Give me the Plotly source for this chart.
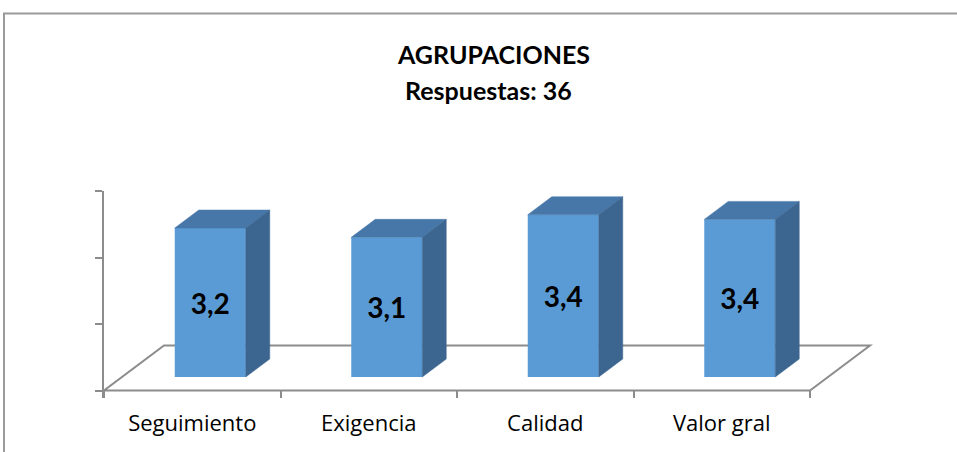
import plotly.graph_objects as go

# ---------------- data ----------------
categories = ["Seguimiento", "Exigencia", "Calidad", "Valor gral"]
values = [3.24, 3.10, 3.44, 3.37]
value_labels = ["3,2", "3,1", "3,4", "3,4"]
y_ticks = [1, 2, 3, 4]
title_line1 = "AGRUPACIONES"
title_line2 = "Respuestas: 36"

# ---------------- layout geometry (pixels) ----------------
W, H = 957, 452
L_PX, R_PX = 104, 885          # plot area left/right
T_PX, B_PX = 191, 398          # plot area top/bottom
CAT_PX = 176.5                 # pixels per category
UNIT_PX = 66.5                 # pixels per value unit
FLOOR_Y_PX = 390.5             # front floor line

axis_min = y_ticks[0]
y_lo = axis_min - (B_PX - FLOOR_Y_PX) / UNIT_PX
y_hi = axis_min + (FLOOR_Y_PX - T_PX) / UNIT_PX
x_lo = -0.5
x_hi = x_lo + (R_PX - L_PX) / CAT_PX

DX = 60 / CAT_PX               # floor depth (x units)
DY = 45 / UNIT_PX              # floor depth (y units)
FRONT = 0.3                    # bar front at this fraction of depth
DEPTH = 0.4                    # bar depth as fraction of floor depth
BAR_W = 71 / CAT_PX

FRONT_C = "#5B9BD5"
TOP_C = "#4677A8"
SIDE_C = "#3C6690"
AX_C = "#8C8C8C"
FONT = "Lato"
LABEL_FONT = "Open Sans"

xs = list(range(len(categories)))
bar_x = [i + FRONT * DX for i in xs]
base = axis_min + FRONT * DY

fig = go.Figure()

# front faces
fig.add_trace(go.Bar(
    x=bar_x, y=[v - axis_min for v in values], base=base, width=BAR_W,
    marker=dict(color=FRONT_C, line=dict(width=0)),
    text=value_labels, textposition="inside", insidetextanchor="middle",
    constraintext="none",
    textfont=dict(family=FONT, size=28, color="black", weight="bold"),
    hoverinfo="skip", showlegend=False,
))

# top and side faces
for cx, v in zip(bar_x, values):
    xl, xr = cx - BAR_W / 2, cx + BAR_W / 2
    top = base + (v - axis_min)
    ddx, ddy = DEPTH * DX, DEPTH * DY
    fig.add_trace(go.Scatter(
        x=[xl, xl + ddx, xr + ddx, xr, xl],
        y=[top, top + ddy, top + ddy, top, top],
        mode="lines", fill="toself", fillcolor=TOP_C,
        line=dict(color=TOP_C, width=0.5),
        hoverinfo="skip", showlegend=False))
    fig.add_trace(go.Scatter(
        x=[xr, xr, xr + ddx, xr + ddx, xr],
        y=[base, top, top + ddy, base + ddy, base],
        mode="lines", fill="toself", fillcolor=SIDE_C,
        line=dict(color=SIDE_C, width=0.5),
        hoverinfo="skip", showlegend=False))

# floor (behind bars)
fx0, fx1 = -0.5, len(categories) - 0.5
f0, f1 = axis_min, axis_min + DY
floor_path = (f"M {fx0},{f0} L {fx1},{f0} L {fx1 + DX},{f1} "
              f"L {fx0 + DX},{f1} Z")
shapes = [dict(type="path", path=floor_path, xref="x", yref="y",
               line=dict(color=AX_C, width=2), layer="below")]

# outer chart frame (cropped on right/bottom)
def px_to_paper_x(px):
    return (px - L_PX) / (R_PX - L_PX)

def py_to_paper_y(py):
    return (B_PX - py) / (B_PX - T_PX)

shapes.append(dict(type="rect", xref="paper", yref="paper",
                   x0=px_to_paper_x(4), x1=px_to_paper_x(975),
                   y0=py_to_paper_y(475), y1=py_to_paper_y(13.5),
                   line=dict(color="#9A9A9A", width=2), layer="below"))

annotations = [
    dict(text=title_line1, x=px_to_paper_x(493), y=py_to_paper_y(54),
         xref="paper", yref="paper", showarrow=False,
         xanchor="center", yanchor="middle",
         font=dict(family=FONT, size=25, color="black", weight="bold")),
    dict(text=title_line2, x=px_to_paper_x(488.5), y=py_to_paper_y(90),
         xref="paper", yref="paper", showarrow=False,
         xanchor="center", yanchor="middle",
         font=dict(family=FONT, size=25, color="black", weight="bold")),
]

fig.update_layout(
    width=W, height=H,
    margin=dict(l=L_PX, r=W - R_PX, t=T_PX, b=H - B_PX, pad=0, autoexpand=False),
    paper_bgcolor="white", plot_bgcolor="white",
    barmode="overlay", showlegend=False,
    shapes=shapes, annotations=annotations,
    xaxis=dict(range=[x_lo, x_hi], tickmode="array", tickvals=xs,
               ticktext=categories, ticks="", showline=False,
               showgrid=False, zeroline=False, automargin=False,
               ticklabelstandoff=10,
               tickfont=dict(family=LABEL_FONT, size=22, color="black"),
               minor=dict(tickmode="array",
                          tickvals=[i - 0.5 for i in range(len(categories) + 1)],
                          ticks="inside", ticklen=8, tickwidth=2,
                          tickcolor=AX_C, showgrid=False)),
    yaxis=dict(range=[y_lo, y_hi], tickmode="array", tickvals=y_ticks,
               showticklabels=False, ticks="outside", ticklen=7,
               tickwidth=2, tickcolor=AX_C, showline=True, linecolor=AX_C,
               linewidth=2, showgrid=False, zeroline=False, automargin=False),
)

fig.write_html(
    "out.html",
    config={"displayModeBar": False},
    post_script="document.body.style.margin='0px';document.body.style.overflow='hidden';",
)
